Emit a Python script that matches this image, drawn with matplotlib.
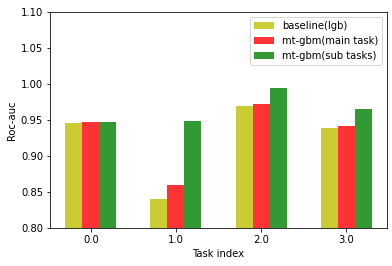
import numpy as np
import matplotlib
matplotlib.use("Agg")
import matplotlib.pyplot as plt

tasks = [0.0, 1.0, 2.0, 3.0]
baseline = [0.946, 0.840, 0.969, 0.939]
main_task = [0.947, 0.860, 0.972, 0.941]
sub_tasks = [0.947, 0.949, 0.994, 0.965]

w = 0.2
x = np.array(tasks)

fig = plt.figure(figsize=(392/72, 266/72), dpi=72)
ax = fig.add_subplot(111)
fig.subplots_adjust(left=50/392, right=387/392, top=1-12/266, bottom=1-228/266)

ax.bar(x - w, baseline, w, color='y', alpha=0.8, label='baseline(lgb)')
ax.bar(x, main_task, w, color='r', alpha=0.8, label='mt-gbm(main task)')
ax.bar(x + w, sub_tasks, w, color='g', alpha=0.8, label='mt-gbm(sub tasks)')

ax.set_xticks(x)
ax.set_xticklabels([str(t) for t in tasks])
ax.set_ylim(0.8, 1.1)
ax.set_xlabel('Task index')
ax.set_ylabel('Roc-auc')
ax.legend(loc='upper right')

fig.savefig('out.png', dpi=72)
